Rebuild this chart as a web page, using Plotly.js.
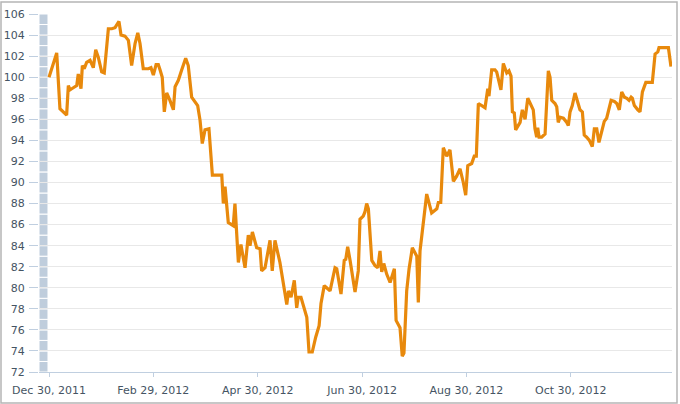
<!DOCTYPE html>
<html>
<head>
<meta charset="utf-8">
<script src="https://cdn.plot.ly/plotly-3.0.1.min.js"></script>
<style>html,body{margin:0;padding:0;background:#fff;}#chart{width:680px;height:404px;}</style>
</head>
<body>
<div id="chart"></div>
<script>
// Days after 2011-12-30 and the index value on that day
const startDate = '2011-12-30';
const dayOffsets = [0,4.5,6.4,9.4,10.3,11.3,12.3,13.3,16.2,17.1,18.7,19.5,20.6,22.0,24.0,25.9,27.3,28.8,30.8,32.3,
34.7,36.7,38.6,40.9,42.1,44.4,46.4,48.3,50.3,51.9,53.2,55.1,58.1,59.6,61.0,62.6,63.9,64.9,66.2,67.4,
68.8,70.7,72.7,73.7,75.6,77.6,79.9,81.4,83.4,86.9,88.3,89.6,91.2,93.5,95.5,101.0,101.9,102.9,103.9,104.8,
107.7,108.7,110.7,112.2,114.6,116.5,117.5,118.9,121.4,123.4,124.3,126.3,129.2,130.5,132.1,135.0,139.0,140.0,141.5,142.2,
143.4,144.8,145.7,147.3,149.3,150.7,152.0,153.9,155.9,157.9,159.0,160.9,162.3,164.3,167.2,168.2,170.7,172.6,173.5,174.6,
176.0,178.9,180.8,181.8,183.7,184.7,185.7,186.7,188.7,190.6,192.2,193.5,194.5,195.7,197.4,199.4,201.9,202.9,205.2,206.5,
207.5,209.1,210.5,212.4,215.0,215.9,216.9,218.8,220.8,223.7,226.7,227.6,229.0,230.5,232.5,234.4,236.4,238.3,240.3,242.2,
243.6,244.8,247.1,248.6,249.8,251.0,253.3,254.9,256.5,257.2,258.8,260.7,261.7,263.1,264.2,265.6,267.6,268.9,270.1,270.9,
272.0,272.8,275.4,276.7,278.3,279.9,282.2,283.1,284.1,285.1,285.7,286.5,288.0,290.0,291.9,292.9,293.9,295.8,296.8,297.7,
298.7,300.7,302.7,303.6,304.6,305.9,307.5,309.1,310.4,311.8,312.9,314.3,315.9,317.6,318.8,320.2,321.5,323.5,324.6,326.0,
327.0,328.6,330.5,331.9,333.4,334.8,336.4,337.8,339.1,340.3,341.0,342.2,344.2,345.5,346.9,348.9,351.4,352.7,354.3,355.9,
356.6,359.2,362.1,363.6];
const values = [100.0,102.3,97.0,96.5,96.4,99.2,98.8,98.9,99.2,100.3,98.9,101.1,100.8,101.4,101.6,100.9,102.6,101.9,100.5,100.4,
104.6,104.6,104.7,105.3,104.0,103.9,103.5,101.1,103.2,104.2,103.2,100.8,100.8,100.9,100.2,101.2,101.2,100.7,100.0,96.7,
98.5,97.8,96.9,99.1,99.7,100.7,101.8,101.1,98.1,97.3,95.9,93.7,95.0,95.1,90.7,90.7,88.0,89.6,88.0,86.2,
85.9,88.0,82.4,84.1,81.9,85.0,84.0,85.3,83.8,83.7,81.6,81.9,84.5,81.6,84.5,82.4,78.4,79.7,79.1,79.6,
80.7,78.1,79.1,79.1,78.1,77.2,73.9,73.9,75.3,76.4,78.5,80.2,80.0,79.7,81.9,81.8,79.4,82.6,82.7,83.9,
82.6,79.6,81.6,86.5,86.8,87.2,88.0,87.5,82.6,82.1,81.9,83.5,81.5,82.3,81.3,80.5,81.8,76.9,76.2,73.5,
73.8,79.7,81.8,83.8,83.0,78.6,83.5,86.1,88.9,87.1,87.5,88.1,88.1,93.3,92.5,93.1,90.1,90.6,91.3,90.0,
88.8,91.6,91.8,92.5,92.5,97.5,97.3,97.1,98.9,98.2,100.7,100.7,100.5,99.4,98.8,101.3,100.4,100.6,100.1,96.7,
96.6,95.0,95.7,96.9,96.0,98.0,97.2,96.9,95.1,94.3,95.2,94.3,94.3,94.6,100.6,100.0,97.8,97.5,97.2,95.7,
96.2,96.1,95.7,95.4,96.7,97.3,98.5,97.5,96.9,96.7,94.5,94.3,94.0,93.4,95.1,95.1,93.8,95.1,95.8,96.1,
96.7,97.8,97.7,97.5,96.9,98.6,98.1,98.0,97.8,98.1,98.0,97.3,96.9,96.7,98.6,99.5,99.5,99.5,102.2,102.4,
102.8,102.8,102.8,101.0];
const tickDates = ['2011-12-30','2012-02-29','2012-04-30','2012-06-30','2012-08-30','2012-10-30'];
const tickLabels = ['Dec 30, 2011','Feb 29, 2012','Apr 30, 2012','Jun 30, 2012','Aug 30, 2012','Oct 30, 2012'];
const yTicks = [72,74,76,78,80,82,84,86,88,90,92,94,96,98,100,102,104,106];

const t0 = Date.parse(startDate + 'T00:00:00Z');
function iso(ms){ return new Date(ms).toISOString().replace('T',' ').slice(0,19); }
const dates = dayOffsets.map(d => iso(t0 + d*86400000));

const shapes = [];
// segmented navigator bar at the left of the plot
for (let v = 72; v < 106; v++) {
  shapes.push({type:'rect', xref:'paper', yref:'y', x0:0, x1:0.0142, y0:v, y1:v+1,
    fillcolor:'#bfcddc', line:{color:'#ffffff', width:1}, layer:'between'});
}
// outer frame
shapes.push({type:'rect', xref:'paper', yref:'paper', x0:-38/633, x1:1+5/633, y0:-31/358, y1:1+12/358,
  line:{color:'#b5b5b5', width:1.5}, fillcolor:'rgba(0,0,0,0)'});

const trace = {
  x: dates, y: values, type:'scatter', mode:'lines',
  line:{color:'#e8890c', width:3.2, shape:'linear'},
  hoverinfo:'skip'
};

const layout = {
  width:680, height:404,
  margin:{l:39, r:8, t:14, b:32},
  paper_bgcolor:'#ffffff', plot_bgcolor:'#ffffff',
  showlegend:false,
  font:{family:'DejaVu Sans, Verdana, sans-serif', size:11, color:'#455463'},
  xaxis:{
    type:'date',
    range:[iso(t0 - 5.85*86400000), iso(t0 + 364.2*86400000)],
    tickmode:'array', tickvals:tickDates, ticktext:tickLabels,
    ticks:'outside', ticklen:4, tickcolor:'#c0cfe0', tickwidth:1,
    ticklabelstandoff:4,
    showgrid:false, zeroline:false,
    showline:true, linecolor:'#c0cfe0', linewidth:1,
    tickfont:{size:11, color:'#455463'}
  },
  yaxis:{
    range:[72,106],
    tickmode:'array', tickvals:yTicks,
    ticks:'outside', ticklen:9, tickcolor:'#c0cfe0', tickwidth:1,
    ticklabelstandoff:2,
    showgrid:true, gridcolor:'#e8e8e8', gridwidth:1,
    zeroline:false, showline:false,
    tickfont:{size:11, color:'#455463'}
  },
  shapes: shapes
};

Plotly.newPlot('chart', [trace], layout, {displayModeBar:false, staticPlot:true});
</script>
</body>
</html>
